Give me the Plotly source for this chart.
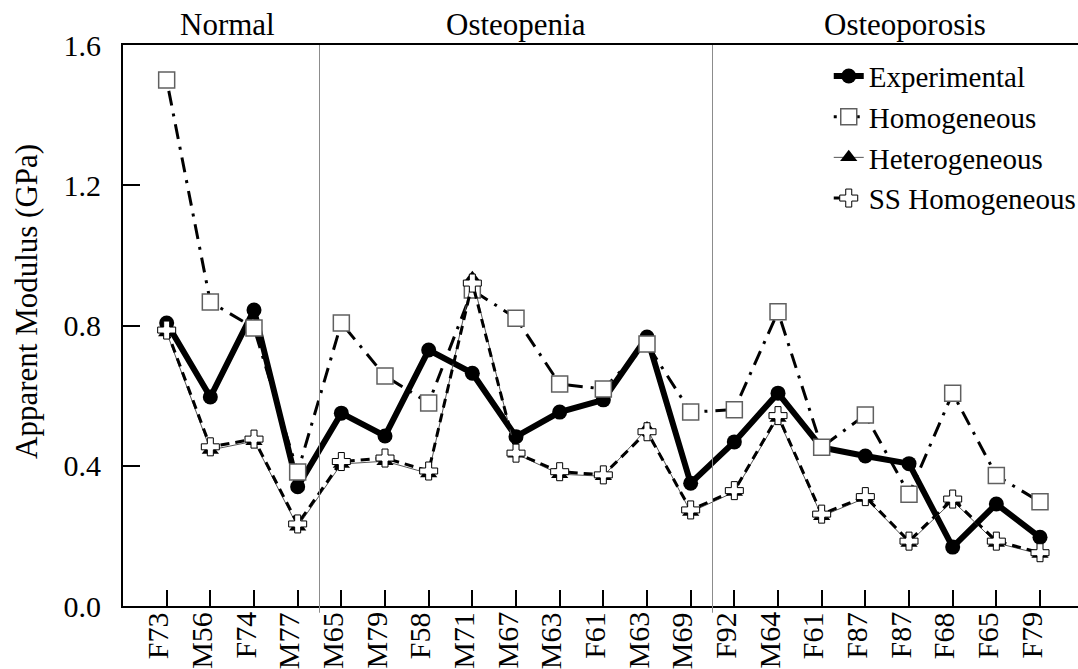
import plotly.graph_objects as go

# Specimen labels along the x axis (in plotted order)
specimens = ["F73", "M56", "F74", "M77", "M65", "M79", "F58", "M71", "M67", "M63",
             "F61", "M63", "M69", "F92", "M64", "F61", "F87", "F87", "F68", "F65", "F79"]

# Apparent modulus (GPa) for each specimen
experimental = [0.807, 0.596, 0.844, 0.340, 0.550, 0.485, 0.730, 0.664, 0.483, 0.553,
                0.588, 0.767, 0.350, 0.468, 0.607, 0.452, 0.428, 0.406, 0.168, 0.291, 0.196]
homogeneous = [1.500, 0.867, 0.793, 0.382, 0.807, 0.656, 0.579, 0.901, 0.821, 0.633,
               0.619, 0.747, 0.553, 0.560, 0.839, 0.453, 0.545, 0.319, 0.607, 0.372, 0.297]
heterogeneous = [0.780, 0.445, 0.470, 0.226, 0.405, 0.413, 0.378, 0.935, 0.434, 0.376,
                 0.370, 0.506, 0.268, 0.325, 0.536, 0.256, 0.308, 0.180, 0.300, 0.180, 0.148]
ss_homogeneous = [0.787, 0.454, 0.476, 0.234, 0.412, 0.422, 0.385, 0.921, 0.436, 0.383,
                  0.374, 0.497, 0.274, 0.329, 0.543, 0.262, 0.312, 0.185, 0.305, 0.185, 0.152]

# Bone-density groups: label and (first, last) specimen index
groups = [("Normal", 0, 3), ("Osteopenia", 4, 12), ("Osteoporosis", 13, 20)]
group_label_x = [1.4, 8.0, 16.9]

y_ticks = [0, 0.4, 0.8, 1.2, 1.6]
y_tick_text = ["0.0", "0.4", "0.8", "1.2", "1.6"]

FONT = "Liberation Serif, Times New Roman, serif"
x = list(range(len(specimens)))

fig = go.Figure()

fig.add_trace(go.Scatter(
    x=x, y=experimental, name="Experimental", mode="lines+markers",
    line=dict(color="black", width=6),
    marker=dict(symbol="circle", size=15, color="black"),
))
fig.add_trace(go.Scatter(
    x=x, y=homogeneous, name="Homogeneous", mode="lines+markers",
    line=dict(color="black", width=3, dash="3px,8px,15px,8px"),
    marker=dict(symbol="square", size=16, color="white",
                line=dict(color="#606060", width=1.5)),
))
fig.add_trace(go.Scatter(
    x=x, y=heterogeneous, name="Heterogeneous", mode="lines+markers",
    line=dict(color="#555555", width=1),
    marker=dict(symbol="triangle-up", size=15, color="black"),
))
fig.add_trace(go.Scatter(
    x=x, y=ss_homogeneous, name="SS Homogeneous", mode="lines+markers",
    line=dict(color="black", width=3, dash="9px,6px"),
    marker=dict(symbol="cross", size=15, color="white",
                line=dict(color="black", width=1)),
))

shapes = []
annotations = []

# Group separators and group titles
for i, (label, first, last) in enumerate(groups):
    if i > 0:
        shapes.append(dict(type="line", xref="x", yref="paper",
                           x0=first - 0.5, x1=first - 0.5, y0=-0.012, y1=1,
                           line=dict(color="#8c8c8c", width=1)))
    annotations.append(dict(text=label, xref="x", yref="paper",
                            x=group_label_x[i], y=1, yanchor="bottom", yshift=1,
                            showarrow=False,
                            font=dict(family=FONT, size=31, color="black")))

# Rotated specimen labels, set slightly left of their ticks
for xi, name in zip(x, specimens):
    annotations.append(dict(text=name, xref="x", yref="paper", x=xi, y=0,
                            xanchor="center", yanchor="top", xshift=-9, yshift=-4,
                            textangle=-90, showarrow=False,
                            font=dict(family=FONT, size=30, color="black")))

annotations.append(dict(text="Apparent Modulus (GPa)", xref="paper", yref="paper",
                        x=-0.1005, y=0.542, textangle=-90, showarrow=False,
                        xanchor="center", yanchor="middle",
                        font=dict(family=FONT, size=31, color="black")))

fig.update_layout(
    width=1078, height=669,
    margin=dict(l=123, r=0, t=45, b=63, autoexpand=False),
    paper_bgcolor="white", plot_bgcolor="white",
    font=dict(family=FONT, size=29, color="black"),
    shapes=shapes, annotations=annotations,
    legend=dict(x=0.739, y=0.99, xanchor="left", yanchor="top",
                bgcolor="rgba(0,0,0,0)", font=dict(family=FONT, size=29),
                tracegroupgap=0, itemsizing="trace"),
)

fig.update_xaxes(
    range=[-1.0, 20.87], tickmode="array", tickvals=x, showticklabels=False,
    ticks="inside", ticklen=16, tickwidth=1.5, tickcolor="black",
    showline=True, linecolor="black", linewidth=2, mirror=True,
    showgrid=False, zeroline=False,
)
fig.update_yaxes(
    range=[0, 1.6], tickmode="array", tickvals=y_ticks, ticktext=y_tick_text,
    ticks="inside", ticklen=17, tickwidth=1.5, tickcolor="black",
    showline=True, linecolor="black", linewidth=2, mirror=False,
    showgrid=False, zeroline=False, ticklabelstandoff=14,
    tickfont=dict(family=FONT, size=30, color="black"),
)

fig.write_html("out.html")
